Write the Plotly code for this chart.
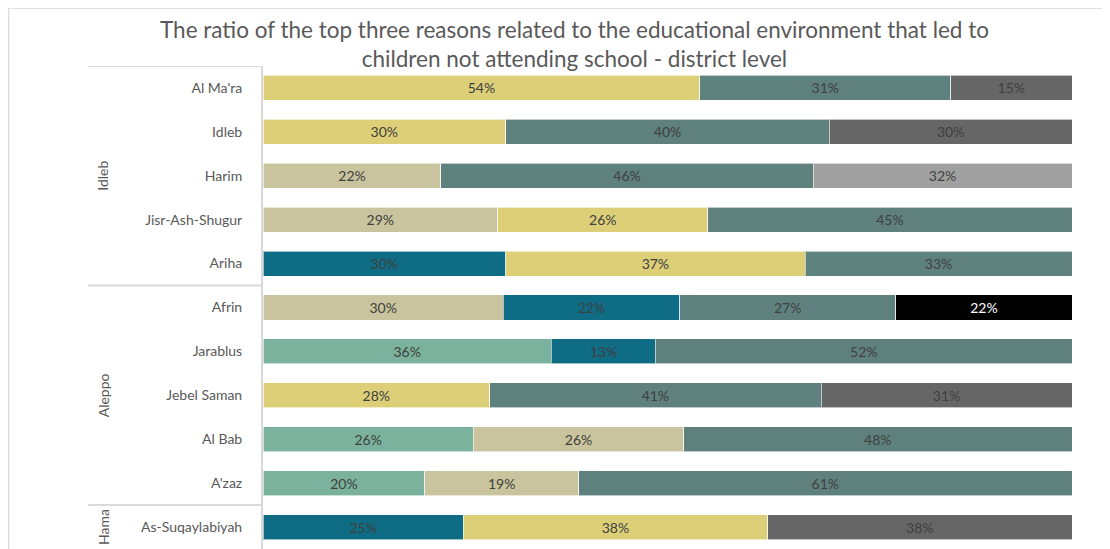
import plotly.graph_objects as go

districts = ["Al Ma'ra", "Idleb", "Harim", "Jisr-Ash-Shugur", "Ariha",
             "Afrin", "Jarablus", "Jebel Saman", "Al Bab", "A'zaz",
             "As-Suqaylabiyah"]
governorates = ["Idleb", "Aleppo", "Hama"]
gov_sizes = [5, 5, 1]

reason_mint = [None, None, None, None, None, None, 36, None, 26, 20, None]
reason_beige = [None, None, 22, 29, None, 30, None, None, 26, 19, None]
reason_darkteal = [None, None, None, None, 30, 22, 13, None, None, None, 25]
reason_yellow = [54, 30, None, 26, 37, None, None, 28, None, None, 38]
reason_tealgray = [31, 40, 46, 45, 33, 27, 52, 41, 48, 61, None]
reason_darkgray = [15, 30, None, None, None, None, None, 31, None, None, 38]
reason_lightgray = [None, None, 32, None, None, None, None, None, None, None, None]
reason_black = [None, None, None, None, None, 22, None, None, None, None, None]

series = [
    ("Reason A", reason_mint, "#7AB29D", "#404040"),
    ("Reason B", reason_beige, "#C9C49D", "#404040"),
    ("Reason C", reason_darkteal, "#0E6D85", "#404040"),
    ("Reason D", reason_yellow, "#DCCF78", "#404040"),
    ("Reason E", reason_tealgray, "#5E817D", "#404040"),
    ("Reason F", reason_darkgray, "#666666", "#404040"),
    ("Reason G", reason_lightgray, "#A0A0A0", "#404040"),
    ("Reason H", reason_black, "#000000", "#FFFFFF"),
]

FONT = "Lato"
fig = go.Figure()
for name, vals, color, tcolor in series:
    fig.add_trace(go.Bar(
        name=name, y=districts, x=vals, orientation="h",
        marker=dict(color=color, line=dict(color="rgba(255,255,255,0.6)", width=1)),
        text=[f"{v}%" if v is not None else "" for v in vals],
        texttemplate="%{text}", textposition="inside",
        insidetextanchor="middle", constraintext="none",
        textfont=dict(family=FONT, size=14, color=tcolor),
        hoverinfo="name+x+y",
    ))

# page body has an 8px margin; figure coordinates = screen - 8
OFF = 8
W, H = 1102, 541
ml, mr, mt, mb = 263 - OFF, 38, 66 - OFF, 0
pw = W - ml - mr
ph = H - mt - mb

def px_x(p):
    return (p - OFF - ml) / pw

def px_y(p):
    return (H - mb - (p - OFF)) / ph

shapes = []
# chart border (top and left)
shapes.append(dict(type="line", xref="paper", yref="paper", x0=px_x(8.5), x1=px_x(1115),
                   y0=px_y(8), y1=px_y(8), line=dict(color="#D9D9D9", width=1.5)))
shapes.append(dict(type="line", xref="paper", yref="paper", x0=px_x(8.5), x1=px_x(8.5),
                   y0=px_y(8), y1=-0.1, line=dict(color="#D9D9D9", width=1.5)))
# group separators
bounds = [-0.5]
acc = -0.5
for s in gov_sizes:
    acc += s
    bounds.append(acc)
for b in bounds[:-1]:
    shapes.append(dict(type="line", xref="paper", yref="y", x0=px_x(88), x1=0,
                       y0=b, y1=b, line=dict(color="#D9D9D9", width=2)))

annotations = []
start = 0
for g, s in zip(governorates, gov_sizes):
    mid = start + (s - 1) / 2
    annotations.append(dict(xref="paper", yref="y", x=px_x(103), y=mid, text=g,
                            textangle=-90, showarrow=False, xanchor="center", yanchor="middle",
                            font=dict(family=FONT, size=14, color="#595959")))
    start += s

annotations.append(dict(xref="paper", yref="paper", x=px_x(574), y=px_y(44.5),
                        text="The ratio of the top three reasons related to the educational environment that led to<br>children not attending school - district level",
                        showarrow=False, xanchor="center", yanchor="middle",
                        font=dict(family=FONT, size=22.5, color="#595959")))

fig.update_layout(
    width=W, height=H, barmode="stack", barnorm="percent", bargap=0.43,
    margin=dict(l=ml, r=mr, t=mt, b=mb, pad=0),
    paper_bgcolor="white", plot_bgcolor="white",
    showlegend=False,
    shapes=shapes, annotations=annotations,
    xaxis=dict(range=[0, 100], showgrid=False, zeroline=False, showticklabels=False,
               showline=False, fixedrange=True),
    yaxis=dict(type="category", categoryorder="array", categoryarray=districts,
               range=[len(districts) - 0.5, -0.5], showgrid=False, zeroline=False,
               showline=True, linecolor="#D9D9D9", linewidth=2, ticks="",
               ticklabelstandoff=16,
               tickfont=dict(family=FONT, size=14, color="#595959")),
)

fig.write_html("out.html")
